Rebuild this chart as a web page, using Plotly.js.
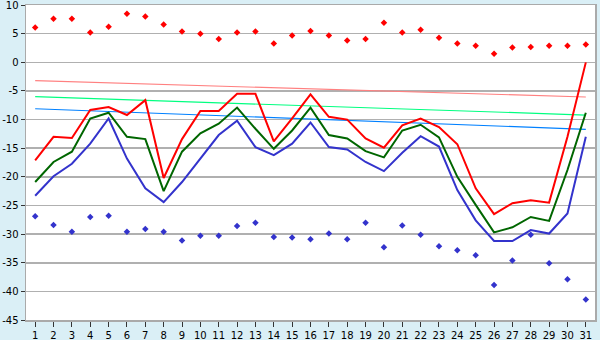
<!DOCTYPE html>
<html>
<head>
<meta charset="utf-8">
<script src="https://cdn.plot.ly/plotly-3.0.1.min.js"></script>
<style>html,body{margin:0;padding:0;background:#daeff6;}</style>
</head>
<body>
<div id="chart" style="width:600px;height:340px;"></div>
<script>
const days = [1,2,3,4,5,6,7,8,9,10,11,12,13,14,15,16,17,18,19,20,21,22,23,24,25,26,27,28,29,30,31];
const maxTemp = [-17.1,-13.0,-13.2,-8.3,-7.8,-9.2,-6.6,-20.2,-13.4,-8.5,-8.5,-5.5,-5.5,-13.8,-9.8,-5.6,-9.5,-10.0,-13.3,-14.9,-11.0,-9.8,-11.3,-14.3,-22.0,-26.5,-24.6,-24.1,-24.5,-13.0,0.0];
const meanTemp = [-20.9,-17.4,-15.6,-9.8,-8.8,-13.0,-13.4,-22.5,-15.6,-12.4,-10.7,-7.9,-11.6,-15.1,-11.9,-7.9,-12.7,-13.3,-15.5,-16.6,-11.9,-10.9,-13.1,-20.0,-24.9,-29.7,-28.8,-27.0,-27.7,-18.8,-8.8];
const minTemp = [-23.3,-19.9,-17.7,-14.2,-9.8,-16.8,-22.0,-24.4,-20.9,-16.9,-12.7,-10.2,-14.8,-16.2,-14.2,-10.5,-14.8,-15.2,-17.4,-19.0,-15.8,-12.9,-14.7,-22.3,-27.6,-31.2,-31.2,-29.3,-29.9,-26.4,-13.0];
const recordHigh = [6.1,7.6,7.6,5.2,6.2,8.5,8.0,6.6,5.4,5.0,4.1,5.2,5.4,3.3,4.7,5.5,4.7,3.8,4.1,6.9,5.2,5.7,4.3,3.3,2.9,1.5,2.6,2.7,2.9,2.9,3.1];
const recordLow = [-26.9,-28.4,-29.6,-27.0,-26.8,-29.6,-29.1,-29.6,-31.1,-30.3,-30.3,-28.6,-28.0,-30.5,-30.6,-30.9,-29.9,-30.9,-28.0,-32.3,-28.5,-30.1,-32.1,-32.8,-33.7,-38.9,-34.6,-30.1,-35.1,-37.9,-41.4];
const trendDays = [1,31];
const maxTrend = [-3.2,-6.05];
const meanTrend = [-6.0,-9.2];
const minTrend = [-8.1,-11.7];
const yTicks = [10,5,0,-5,-10,-15,-20,-25,-30,-35,-40,-45];

const traces = [
  {x: trendDays, y: maxTrend, mode:'lines', line:{color:'#ff8080', width:1.2}},
  {x: trendDays, y: meanTrend, mode:'lines', line:{color:'#00ff80', width:1.2}},
  {x: trendDays, y: minTrend, mode:'lines', line:{color:'#0080ff', width:1.2}},
  {x: days, y: minTemp, mode:'lines', line:{color:'#3333cc', width:2}},
  {x: days, y: meanTemp, mode:'lines', line:{color:'#006600', width:2}},
  {x: days, y: maxTemp, mode:'lines', line:{color:'#ff0000', width:2}},
  {x: days, y: recordHigh, mode:'markers', marker:{color:'#ff0000', symbol:'diamond', size:5}},
  {x: days, y: recordLow, mode:'markers', marker:{color:'#3333cc', symbol:'diamond', size:5}}
];

const layout = {
  width:600, height:340,
  margin:{l:26, r:5, t:5, b:20},
  paper_bgcolor:'#daeff6',
  plot_bgcolor:'#ffffff',
  showlegend:false,
  hovermode:false,
  font:{family:'DejaVu Sans', size:10, color:'#000'},
  xaxis:{
    range:[0.5,31.5], tickmode:'array', tickvals:days, ticktext:days.map(String),
    showgrid:false, zeroline:false,
    showline:true, linecolor:'#aaaaaa', linewidth:1.5, mirror:true,
    ticks:'outside', ticklen:5, tickcolor:'#333', tickwidth:1,
    ticklabeloverflow:'allow',
    tickfont:{family:'DejaVu Sans', size:10, color:'#000'}
  },
  yaxis:{
    range:[-45,10.02], tickmode:'array', tickvals:yTicks, ticktext:yTicks.map(String),
    showgrid:true, gridcolor:'#b0b0b0', gridwidth:1.5, zeroline:false,
    showline:true, linecolor:'#aaaaaa', linewidth:1.5, mirror:true,
    ticks:'outside', ticklen:4, tickcolor:'#333', tickwidth:1,
    ticklabeloverflow:'allow',
    tickfont:{family:'DejaVu Sans', size:10, color:'#000'}
  }
};

Plotly.newPlot('chart', traces, layout, {staticPlot:true, displayModeBar:false});
</script>
</body>
</html>
